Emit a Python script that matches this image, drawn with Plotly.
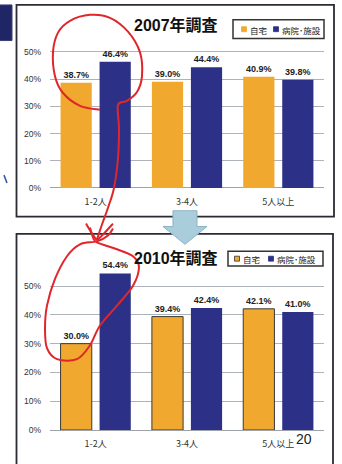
import plotly.graph_objects as go

W, H = 342, 464

categories = ["1-2人", "3-4人", "5人以上"]
series_names = ["自宅", "病院･施設"]
home_2007 = [38.7, 39.0, 40.9]
facility_2007 = [46.4, 44.4, 39.8]
home_2010 = [30.0, 39.4, 42.1]
facility_2010 = [54.4, 42.4, 41.0]
tick_values = [0, 10, 20, 30, 40, 50]
tick_labels = ["0%", "10%", "20%", "30%", "40%", "50%"]
titles = ["2007年調査", "2010年調査"]
page_number = "20"

ORANGE = "#F1A82E"
NAVY = "#2C3187"
RED = "#E0262B"
TXT = "#222222"
LATIN = "Liberation Sans, Arial, Noto Sans CJK JP"
CJK = "Noto Sans CJK JP, Liberation Sans"


def px(x):
    return x / W


def py(y):
    return 1 - y / H


def smooth_path(pts):
    """Catmull-Rom spline through pixel points -> SVG path in paper units."""
    p = [(px(a), py(b)) for a, b in pts]
    d = f"M{p[0][0]:.4f},{p[0][1]:.4f}"
    for i in range(len(p) - 1):
        p0 = p[i - 1] if i > 0 else p[i]
        p1, p2 = p[i], p[i + 1]
        p3 = p[i + 2] if i + 2 < len(p) else p2
        c1 = (p1[0] + (p2[0] - p0[0]) / 6, p1[1] + (p2[1] - p0[1]) / 6)
        c2 = (p2[0] - (p3[0] - p1[0]) / 6, p2[1] - (p3[1] - p1[1]) / 6)
        d += f" C{c1[0]:.4f},{c1[1]:.4f} {c2[0]:.4f},{c2[1]:.4f} {p2[0]:.4f},{p2[1]:.4f}"
    return d


def poly_path(pts):
    return "M" + " L".join(f"{px(a):.4f},{py(b):.4f}" for a, b in pts) + " Z"


fig = go.Figure()

# --- bars -------------------------------------------------------------------
panels = [
    ("x", "y", home_2007, facility_2007, None),
    ("x2", "y2", home_2010, facility_2010, dict(color="#3a3a3a", width=1)),
]
for xa, ya, home, fac, outline in panels:
    for name, vals, col, line in [
        (series_names[0], home, ORANGE, outline),
        (series_names[1], fac, NAVY, None),
    ]:
        fig.add_trace(go.Bar(
            x=categories, y=vals, name=name, xaxis=xa, yaxis=ya,
            marker=dict(color=col, line=line or dict(width=0)),
            texttemplate="%{y:.1f}%", textposition="outside",
            textfont=dict(family=LATIN, size=9, color=TXT, weight="bold"),
            cliponaxis=False, showlegend=False, hoverinfo="skip",
        ))

axis_x = dict(
    domain=[px(50), px(324)], type="category", showgrid=False, showline=False,
    ticks="", ticklabelstandoff=7,
    tickfont=dict(family=CJK, size=9, color="#333333"),
)
axis_y = dict(
    range=[0, 56], tickvals=tick_values, ticktext=tick_labels,
    showgrid=True, gridcolor="#aeb2bb", gridwidth=1,
    zeroline=True, zerolinecolor="#9ea2aa", zerolinewidth=1,
    showline=False, ticks="", ticklabelstandoff=8,
    tickfont=dict(family=LATIN, size=8.5, color="#333333"),
)

# 2007: 0% at y=190 px, 2.75 px per percent; 2010: 0% at y=434.7 px, 2.91 px per percent
top_dom = [py(190), py(190 - 56 * 2.75)]
bot_dom = [py(434.7), py(434.7 - 56 * 2.91)]

fig.update_layout(
    width=W, height=H,
    margin=dict(l=0, r=0, t=0, b=0),
    paper_bgcolor="#ffffff", plot_bgcolor="rgba(0,0,0,0)",
    barmode="group", bargap=0.146, bargroupgap=0.2,
    xaxis=dict(axis_x, anchor="y"),
    yaxis=dict(axis_y, domain=top_dom, anchor="x"),
    xaxis2=dict(axis_x, anchor="y2"),
    yaxis2=dict(axis_y, domain=bot_dom, anchor="x2"),
)

shapes = []
annotations = []

# slide frames around each chart
frame = dict(type="rect", xref="paper", yref="paper",
             line=dict(color="#2b2b33", width=1.8), fillcolor="rgba(0,0,0,0)", layer="below")
shapes.append(dict(frame, x0=px(16.5), x1=px(334), y0=py(219), y1=py(5)))
shapes.append(dict(frame, x0=px(16.5), x1=px(333), y0=py(470), y1=py(236.5)))

# dark block at the top-left of the slide
shapes.append(dict(type="rect", xref="paper", yref="paper", x0=px(-2), x1=px(12),
                   y0=py(41), y1=py(5), fillcolor="#1f2565",
                   line=dict(color="#3a3f70", width=1), layer="below"))
shapes.append(dict(type="line", xref="paper", yref="paper", x0=px(4), y0=py(177),
                   x1=px(7), y1=py(185), line=dict(color="#3a58a8", width=1.6)))

# titles
for t, yc in zip(titles, [25, 261]):
    annotations.append(dict(text=t, x=px(176), y=py(yc), xref="paper", yref="paper",
                            showarrow=False, xanchor="center", yanchor="middle",
                            font=dict(family=LATIN, size=16, color="#111111", weight="bold")))

# legend boxes
for (bx0, by0, bx1, by1, sq1, sq2, outline) in [
    (233, 20, 324, 39, 244, 276, False),
    (228, 254, 323, 269, 237, 271, True),
]:
    shapes.append(dict(type="rect", xref="paper", yref="paper",
                       x0=px(bx0), x1=px(bx1), y0=py(by1), y1=py(by0),
                       fillcolor="#ffffff", line=dict(color="#333333", width=1.5), layer="above"))
    ym = (by0 + by1) / 2
    for sx, col, name in [(sq1, ORANGE, series_names[0]), (sq2, NAVY, series_names[1])]:
        edge = "#333333" if (outline and col == ORANGE) else col
        shapes.append(dict(type="rect", xref="paper", yref="paper",
                           x0=px(sx - 2.5), x1=px(sx + 2.5), y0=py(ym + 2.5), y1=py(ym - 2.5),
                           fillcolor=col, line=dict(color=edge, width=0.8), layer="above"))
        annotations.append(dict(text=name, x=px(sx + 4), y=py(ym + 0.5), xref="paper", yref="paper",
                                showarrow=False, xanchor="left", yanchor="middle",
                                font=dict(family=CJK, size=8.5, color="#1a1a1a")))

# light-blue block arrow between the two charts
shapes.append(dict(type="path", xref="paper", yref="paper",
                   path=poly_path([(173, 213), (197, 213), (197, 229), (207, 229),
                                   (185, 247), (163, 229), (173, 229)]),
                   fillcolor="#a9cdda", line=dict(color="#8db4c4", width=1), layer="above"))

# red hand-drawn marks
red = dict(type="path", xref="paper", yref="paper", line=dict(color=RED, width=2), layer="above")
shapes.append(dict(red, path=smooth_path([
    (100, 111), (80, 107), (63, 94), (55, 77), (53, 53), (58, 33), (70, 21), (90, 15),
    (110, 18), (128, 32), (140, 53), (142, 77), (137, 93), (127, 102), (118, 106),
    (119, 130), (118, 160), (114, 190), (108, 210), (102, 227), (97, 242)])))
shapes.append(dict(red, path=smooth_path([(86, 226), (92, 236), (97, 243)])))
shapes.append(dict(red, path=smooth_path([(113, 226), (104, 236), (97, 243)])))
shapes.append(dict(red, path=smooth_path([
    (90, 230), (93, 240), (97, 245), (117, 252), (133, 259), (139, 270), (133, 289),
    (117, 309), (100, 329), (90, 349), (77, 363), (57, 363), (47, 352), (45, 332),
    (47, 309), (55, 282), (67, 259), (80, 247), (97, 244), (108, 238), (113, 231)])))

# page number, just right of the last category label
annotations.append(dict(text=page_number, x=px(294), y=py(444), xref="paper", yref="paper",
                        showarrow=False, xanchor="left", yanchor="middle",
                        font=dict(family=LATIN, size=14, color="#222222")))

fig.update_layout(shapes=shapes, annotations=annotations)
fig.write_html("out.html")
